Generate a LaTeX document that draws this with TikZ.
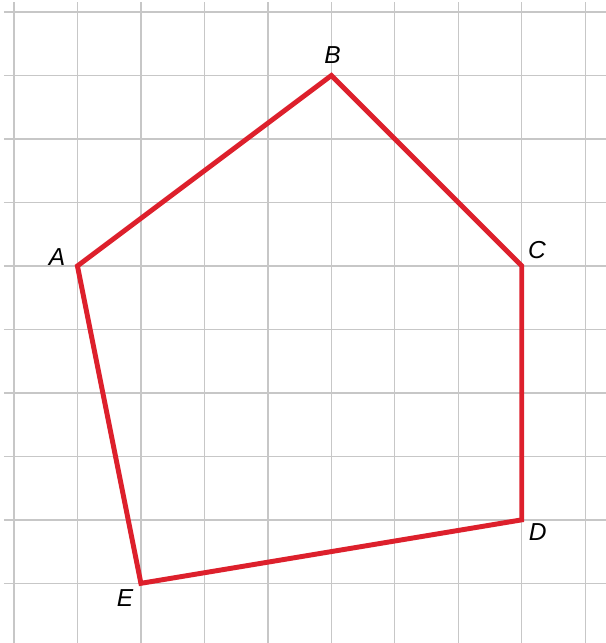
\documentclass[tikz,border=0pt]{standalone}
\usepackage{fontspec}
\setmainfont{Liberation Sans}
\usepackage{tikz}

\begin{document}
\begin{tikzpicture}[
      gridline/.style={draw=black!22,line width=0.6pt},
      side/.style={draw={rgb,255:red,221;green,32;blue,44},line width=2.2pt,line join=miter},
      vertex/.style={font=\fontsize{11}{13}\selectfont\itshape,inner sep=1pt},
    ]
    \useasboundingbox (-0.22,0.06) rectangle (9.32,10.19);
    % grid
    \foreach \y in {1,...,10}
      \draw[gridline] (-0.16,\y) -- (9.32,\y);
    \foreach \x in {0,...,9}
      \draw[gridline] (\x,0.06) -- (\x,10.16);
    % corners of the pentagon
    \coordinate (A) at (1,6);
    \coordinate (B) at (5,9);
    \coordinate (C) at (8,6);
    \coordinate (D) at (8,2);
    \coordinate (E) at (2,1);
    \draw[side] (A) -- (B) -- (C) -- (D) -- (E) -- cycle;
    \node[vertex] (lblA) at ([shift={(-0.32,0.14)}]A) {A};
    \node[vertex] (lblB) at ([shift={(0.02,0.32)}]B) {B};
    \node[vertex] (lblC) at ([shift={(0.24,0.25)}]C) {C};
    \node[vertex] (lblD) at ([shift={(0.25,-0.19)}]D) {D};
    \node[vertex] (lblE) at ([shift={(-0.25,-0.23)}]E) {E};
  \end{tikzpicture}
\end{document}
